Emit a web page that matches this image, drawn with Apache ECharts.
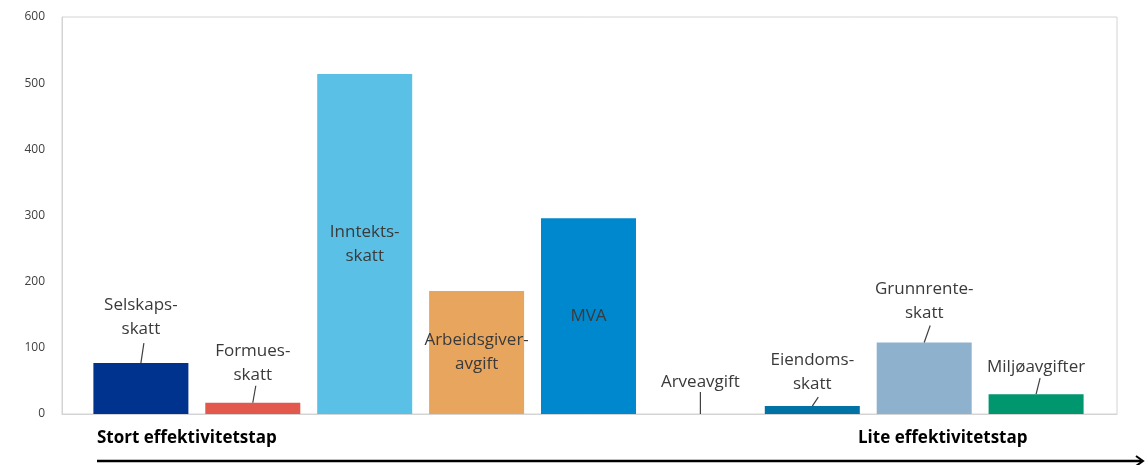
<!DOCTYPE html>
<html>
<head>
<meta charset="utf-8">
<script src="https://cdn.jsdelivr.net/npm/echarts@6/dist/echarts.min.js"></script>
<style>
html,body{margin:0;padding:0;background:#fff;}
#c{width:1148px;height:465px;}
</style>
</head>
<body>
<div id="c"></div>
<script>
// Data
const categories = ['Selskapsskatt','Formuesskatt','Inntektsskatt','Arbeidsgiveravgift','MVA','Arveavgift','Eiendomsskatt','Grunnrenteskatt','Miljøavgifter'];
const barLabels = ['Selskaps-\nskatt','Formues-\nskatt','Inntekts-\nskatt','Arbeidsgiver-\navgift','MVA','Arveavgift','Eiendoms-\nskatt','Grunnrente-\nskatt','Miljøavgifter'];
const values = [77, 17, 514, 186, 296, 0, 12, 108, 30];
const yTicks = [0, 100, 200, 300, 400, 500, 600];
const axisStartText = 'Stort effektivitetstap';
const axisEndText = 'Lite effektivitetstap';

// Styles
const colors = ['#00338d','#e3584c','#5bc0e6','#e8a55d','#0088ce','#7f7f7f','#0072a6','#8eb1cd','#00966e'];
const labelPlace = ['top','top','inside','inside','inside','top','top','top','top'];
const labelDist = [22, 16, 0, 0, 0, 20, 10, 17, 15];
const leaderLen = [20, 17, 0, 0, 0, 22, 9, 17, 16];
const leaderSlant = [3, 3, 0, 0, 0, 0, 6, 6, 4];

const chart = echarts.init(document.getElementById('c'), null, {renderer:'canvas'});

const data = values.map((v, i) => ({
  value: [i, v],
  itemStyle: { color: colors[i] },
  label: { position: labelPlace[i], distance: labelDist[i] }
}));

const leaderData = values.map((v, i) => [i, v, leaderLen[i], leaderSlant[i]]);

chart.setOption({
  animation: false,
  grid: { left: 62, right: 31, top: 17, bottom: 51, show: true, borderColor: '#d4d4d4', borderWidth: 1 },
  xAxis: {
    type: 'value', min: -0.705, max: 8.723,
    axisLabel: { show: false }, axisTick: { show: false }, splitLine: { show: false },
    axisLine: { show: true, onZero: false, lineStyle: { color: '#d4d4d4' } }
  },
  yAxis: {
    type: 'value', min: yTicks[0], max: yTicks[yTicks.length - 1], interval: 100,
    axisLine: { show: true, onZero: false, lineStyle: { color: '#d4d4d4' } },
    axisTick: { show: false }, splitLine: { show: false },
    axisLabel: { color: '#404040', fontSize: 12, fontFamily: 'Open Sans', margin: 17 }
  },
  series: [{
    type: 'bar',
    barWidth: 95,
    data: data,
    label: {
      show: true,
      formatter: p => barLabels[p.dataIndex],
      color: '#3a3a3a', fontSize: 17, fontFamily: 'Open Sans', lineHeight: 24
    }
  }, {
    type: 'custom',
    data: leaderData,
    z: 5,
    silent: true,
    renderItem: (params, api) => {
      const len = api.value(2);
      if (!len) return null;
      const p = api.coord([api.value(0), api.value(1)]);
      const s = api.value(3);
      return {
        type: 'line',
        shape: { x1: p[0], y1: p[1], x2: p[0] + s, y2: p[1] - len },
        style: { stroke: '#404040', lineWidth: 1.2 }
      };
    }
  }],
  graphic: [
    { type: 'text', left: 97, top: 430, style: { text: axisStartText, font: 'bold 17px "Open Sans", sans-serif', fill: '#000' } },
    { type: 'text', left: 858, top: 430, style: { text: axisEndText, font: 'bold 17px "Open Sans", sans-serif', fill: '#000' } },
    { type: 'line', shape: { x1: 97, y1: 461, x2: 1141, y2: 461 }, style: { stroke: '#000', lineWidth: 2.6 } },
    { type: 'polyline', shape: { points: [[1136, 456], [1143, 461], [1136, 466]] }, style: { stroke: '#000', lineWidth: 2, fill: null } }
  ]
});
</script>
</body>
</html>
